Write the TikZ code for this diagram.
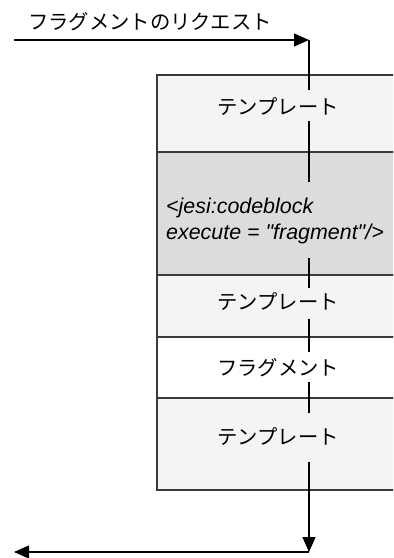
\documentclass[tikz,border=0pt]{standalone}
\usepackage{fontspec}
\setmainfont{Liberation Sans}
\newfontfamily\codefont{Liberation Sans}
\newfontfamily\jp{Noto Sans CJK JP}
\usetikzlibrary{arrows.meta}
\definecolor{bandlight}{HTML}{F4F4F4}
\definecolor{bandgray}{HTML}{DCDCDC}
\definecolor{edgegray}{HTML}{3A3A3A}
\begin{document}
\begin{tikzpicture}[x=1bp,y=-1bp,
  band/.style={draw=edgegray,line width=1.3bp},
  wire/.style={line width=1.3bp},
  arr/.style={wire,-{Triangle[length=15bp,width=13bp]}},
  jlab/.style={font=\jp\fontsize{20.4}{24}\selectfont,inner sep=0pt},
  code/.style={font=\codefont\itshape\fontsize{21.5}{27}\selectfont,align=left,inner sep=0pt,anchor=west}]
\useasboundingbox (0,0) rectangle (393,558);
\begin{scope}
\clip (0,0) rectangle (393,558);
\draw[band,fill=bandlight] (157,75) rectangle (400,152);
\draw[band,fill=bandgray] (157,152) rectangle (400,275);
\draw[band,fill=bandlight] (157,275) rectangle (400,337);
\draw[band,fill=white] (157,337) rectangle (400,398);
\draw[band,fill=bandlight] (157,398) rectangle (400,490);
\end{scope}
% texts
\node[jlab] (req) at (150,22) {フラグメントのリクエスト};
\node[jlab] (t1) at (278,107) {テンプレート};
\node[code] (cb) at (166,221) {<jesi:codeblock\\execute = "fragment"/>};
\node[jlab] (t2) at (278,302) {テンプレート};
\node[jlab] (fr) at (278,368) {フラグメント};
\node[jlab] (t3) at (278,437) {テンプレート};
% connector points
\coordinate (in) at (14,40);
\coordinate (turn) at (309,40);
\coordinate (s1b) at (309,90);
\coordinate (s2a) at (309,121);
\coordinate (s2b) at (309,182);
\coordinate (s3a) at (309,258);
\coordinate (s3b) at (309,288);
\coordinate (s4a) at (309,319);
\coordinate (s4b) at (309,352);
\coordinate (s5a) at (309,382);
\coordinate (s5b) at (309,413);
\coordinate (s6a) at (309,462);
\coordinate (corner) at (309,552);
\coordinate (out) at (14,552);
\draw[arr] (in) -- (turn);
\draw[wire] (turn) -- (s1b);
\draw[wire] (s2a) -- (s2b);
\draw[wire] (s3a) -- (s3b);
\draw[wire] (s4a) -- (s4b);
\draw[wire] (s5a) -- (s5b);
\draw[arr] (s6a) -- (corner);
\draw[arr] (corner) -- (out);
\end{tikzpicture}
\end{document}
